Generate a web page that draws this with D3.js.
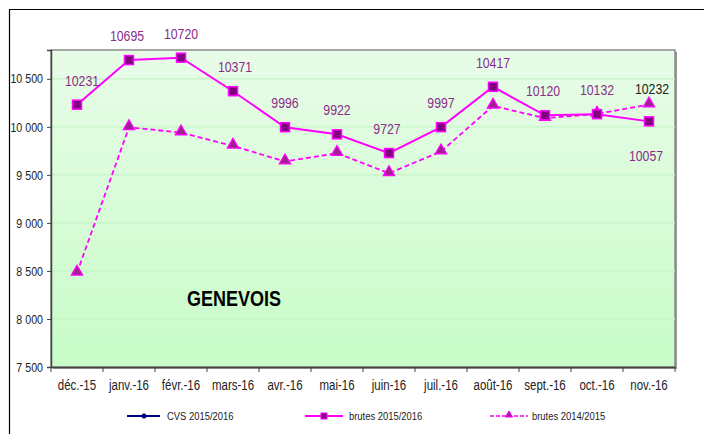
<!DOCTYPE html>
<html><head><meta charset="utf-8">
<script src="https://cdn.jsdelivr.net/npm/d3@7"></script>
<style>body{margin:0;background:#fff}svg{display:block}</style>
</head><body>
<svg id="c" width="704" height="434"></svg>
<script>
const categories = ["déc.-15","janv.-16","févr.-16","mars-16","avr.-16","mai-16","juin-16","juil.-16","août-16","sept.-16","oct.-16","nov.-16"];
const brutes1516 = [10231,10695,10720,10371,9996,9922,9727,9997,10417,10120,10132,10057];
const brutes1415 = [8480,9995,9941,9802,9639,9726,9517,9743,10219,10090,10135,10232];
const yTicks = [7500,8000,8500,9000,9500,10000,10500];
const legendLabels = ["CVS 2015/2016","brutes 2015/2016","brutes 2014/2015"];
const title = "GENEVOIS";

const font = "'Liberation Sans',Arial,sans-serif";
const SX = 0.82;
const svg = d3.select("#c");
const L=51,T=50,R=675,B=367;
const x = d3.scaleBand().domain(categories).range([L,R]);
const y = d3.scaleLinear().domain([7500,10800]).range([B,T]);
const fmt = v => d3.format(",")(v).replace(/,/g," ");

function ctext(parent, px, py, str, anchor){
  return parent.append("text").attr("transform",`translate(${px},${py}) scale(${SX},1)`)
    .attr("text-anchor",anchor||"middle").attr("font-family",font).text(str);
}

// outer frame
svg.append("path").attr("d","M9.5,434V9.5H704").attr("fill","none").attr("stroke","#000").attr("stroke-width",1.2);

const defs = svg.append("defs");
const g = defs.append("linearGradient").attr("id","bg").attr("x1",0).attr("y1",0).attr("x2",0).attr("y2",1);
g.append("stop").attr("offset","0%").attr("stop-color","#e8fce8");
g.append("stop").attr("offset","100%").attr("stop-color","#c8fcc8");

// shadow
svg.append("rect").attr("x",L+2).attr("y",T+2).attr("width",R-L).attr("height",B-T).attr("fill","#9a9a9a");
svg.append("rect").attr("x",L).attr("y",T).attr("width",R-L).attr("height",B-T).attr("fill","url(#bg)").attr("stroke","#8a8a8a").attr("stroke-width",1.5);

// grid
svg.append("g").selectAll("line").data(yTicks.slice(1)).join("line")
  .attr("x1",L).attr("x2",R).attr("y1",d=>y(d)).attr("y2",d=>y(d))
  .attr("stroke","#c6f5c6").attr("stroke-width",1.2);

// axes
const ya = svg.append("g").attr("transform",`translate(${L},0)`)
  .call(d3.axisLeft(y).tickValues(yTicks).tickFormat(fmt).tickSize(4).tickPadding(4));
ya.select(".domain").attr("stroke","#444").attr("stroke-width",1.5);
ya.selectAll(".tick line").attr("stroke","#444");
ya.selectAll("text").attr("font-family",font).attr("font-size",13).attr("fill","#222")
  .attr("x",-8/SX).attr("transform",`scale(${SX},1)`);

const xa = svg.append("g").attr("transform",`translate(0,${B})`)
  .call(d3.axisBottom(x).tickSize(0).tickPadding(13));
xa.select(".domain").attr("stroke","#444").attr("stroke-width",1.5);
xa.selectAll("text").attr("font-family",font).attr("font-size",14).attr("fill","#222")
  .attr("transform",`scale(${SX},1)`);
svg.append("g").selectAll("line").data(d3.range(categories.length+1)).join("line")
  .attr("x1",i=>L+i*x.bandwidth()).attr("x2",i=>L+i*x.bandwidth())
  .attr("y1",B).attr("y2",B+5).attr("stroke","#444");

const cx = d => x(d)+x.bandwidth()/2;

// dashed series
const line = d3.line().x((d,i)=>cx(categories[i])).y(d=>y(d));
svg.append("path").datum(brutes1415).attr("d",line).attr("fill","none")
  .attr("stroke","#ff00ff").attr("stroke-width",1.8).attr("stroke-dasharray","5,3");
const tri = d3.symbol().type(d3.symbolTriangle).size(55);
svg.append("g").selectAll("path").data(brutes1415).join("path")
  .attr("d",tri).attr("transform",(d,i)=>`translate(${cx(categories[i])},${y(d)-1})`)
  .attr("fill","#a0208f").attr("stroke","#ff00ff").attr("stroke-width",1.3);

// solid series
svg.append("path").datum(brutes1516).attr("d",line).attr("fill","none")
  .attr("stroke","#ff00ff").attr("stroke-width",2);
svg.append("g").selectAll("rect").data(brutes1516).join("rect")
  .attr("x",(d,i)=>cx(categories[i])-4.5).attr("y",d=>y(d)-4.5).attr("width",9).attr("height",9)
  .attr("fill","#800080").attr("stroke","#ff00ff").attr("stroke-width",1.5);

// labels
const dx = [5,-2,0,2,0,0,-2,0,0,-2,0,-3];
const lab = svg.append("g");
brutes1516.forEach((d,i)=>{
  ctext(lab, cx(categories[i])+dx[i], i===11 ? y(d)+40 : y(d)-19, d)
    .attr("font-size",15).attr("fill","#8b2c8b");
});
ctext(lab, cx(categories[11])+3, y(brutes1415[11])-11, brutes1415[11])
  .attr("font-size",15).attr("fill","#222");

// title
ctext(svg, 234, 306, title).attr("font-weight","bold").attr("font-size",22).attr("fill","#000");

// legend
const ly = 416;
const leg = svg.append("g");
leg.append("line").attr("x1",127).attr("x2",160).attr("y1",ly).attr("y2",ly).attr("stroke","#000080").attr("stroke-width",2);
leg.append("circle").attr("cx",144).attr("cy",ly).attr("r",2.5).attr("fill","#000080");
leg.append("line").attr("x1",305).attr("x2",343).attr("y1",ly).attr("y2",ly).attr("stroke","#ff00ff").attr("stroke-width",2);
leg.append("rect").attr("x",321).attr("y",ly-3).attr("width",6).attr("height",6).attr("fill","#800080").attr("stroke","#ff00ff");
leg.append("line").attr("x1",490).attr("x2",528).attr("y1",ly).attr("y2",ly).attr("stroke","#ff00ff").attr("stroke-width",1.5).attr("stroke-dasharray","4,2");
leg.append("path").attr("d",d3.symbol().type(d3.symbolTriangle).size(22)).attr("transform",`translate(509,${ly-1})`).attr("fill","#a0208f").attr("stroke","#ff00ff");
[[167,0],[349,1],[532,2]].forEach(([lx,k])=>{
  ctext(leg, lx, ly+4, legendLabels[k], "start").attr("font-size",11.5).attr("fill","#222");
});
</script>
</body></html>
